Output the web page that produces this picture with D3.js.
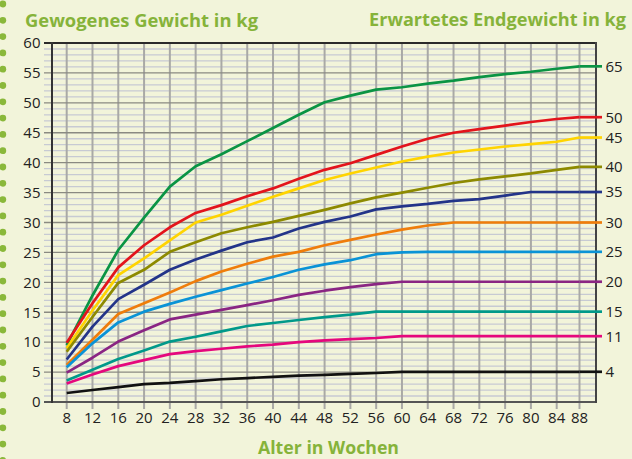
<!DOCTYPE html>
<html><head><meta charset="utf-8">
<script src="https://cdn.jsdelivr.net/npm/d3@7"></script>
<style>html,body{margin:0;padding:0;background:#f2f4da;}svg{display:block}</style>
</head><body><svg id="c" width="632" height="459"></svg>
<script>
// ---- data ----
const weeks = [8,12,16,20,24,28,32,36,40,44,48,52,56,60,64,68,72,76,80,84,88];
const yTicks = [0,5,10,15,20,25,30,35,40,45,50,55,60];
const endLabels = ["65","50","45","40","35","30","25","20","15","11","4"];
const seriesColors = ["#0a9444","#e3141c","#ffd400","#8d8a00","#233489","#ef7d0b","#0a93d6","#8a2583","#00998a","#e5077d","#111111"];
const s65 = [9.5,17.8,25.4,30.8,36.0,39.4,41.4,43.6,45.8,48.0,50.1,51.2,52.2,52.6,53.2,53.7,54.3,54.8,55.2,55.7,56.1];
const s50 = [9.9,16.5,22.5,26.2,29.2,31.6,32.9,34.4,35.7,37.3,38.8,39.9,41.3,42.7,44.0,45.0,45.6,46.2,46.8,47.3,47.6];
const s45 = [9.0,15.3,21.2,24.0,27.0,30.0,31.3,32.8,34.3,35.7,37.1,38.2,39.2,40.2,41.0,41.7,42.2,42.7,43.1,43.5,44.2];
const s40 = [8.4,14.2,19.9,22.1,25.1,26.7,28.2,29.2,30.1,31.1,32.1,33.2,34.2,35.0,35.8,36.6,37.2,37.7,38.2,38.8,39.3];
const s35 = [7.1,12.6,17.2,19.6,22.1,23.8,25.3,26.7,27.5,29.0,30.1,31.0,32.2,32.7,33.1,33.6,33.9,34.5,35.1,35.1,35.1];
const s30 = [6.2,10.4,14.7,16.5,18.3,20.2,21.8,23.1,24.3,25.1,26.2,27.1,28.0,28.8,29.5,30.0,30.0,30.0,30.0,30.0,30.0];
const s25 = [5.8,9.8,13.3,15.1,16.4,17.6,18.7,19.8,20.9,22.1,23.0,23.7,24.7,25.0,25.1,25.1,25.1,25.1,25.1,25.1,25.1];
const s20 = [4.9,7.4,10.1,12.0,13.8,14.6,15.4,16.2,17.0,17.9,18.6,19.2,19.7,20.1,20.1,20.1,20.1,20.1,20.1,20.1,20.1];
const s15 = [3.6,5.4,7.2,8.6,10.1,10.9,11.8,12.7,13.2,13.7,14.2,14.6,15.1,15.1,15.1,15.1,15.1,15.1,15.1,15.1,15.1];
const s11 = [3.1,4.6,6.0,7.0,8.0,8.5,8.9,9.3,9.6,10.0,10.3,10.5,10.7,11.0,11.0,11.0,11.0,11.0,11.0,11.0,11.0];
const s4  = [1.5,2.0,2.5,3.0,3.2,3.5,3.8,4.0,4.2,4.4,4.55,4.7,4.85,5.05,5.05,5.05,5.05,5.05,5.05,5.05,5.05];
const allSeries = [s65,s50,s45,s40,s35,s30,s25,s20,s15,s11,s4];

// ---- layout ----
const svg = d3.select("#c");
const W = 632, H = 459;
const plotL = 52, plotR = 596, plotT = 43, plotB = 402;
const x = d3.scaleLinear().domain([8,84,88]).range([66.7,556.7,579.5]);
const y = d3.scaleLinear().domain([0,60]).range([plotB, plotT]);
const green = "#86b33a";
const font = "'Open Sans', sans-serif";

svg.append("rect").attr("width",W).attr("height",H).attr("fill","#f2f4da");

// left dotted border
const dots = d3.range(0, 29);
svg.append("g").selectAll("circle").data(dots).join("circle")
  .attr("cx",2.8).attr("cy",d=>4+d*16.3).attr("r",3.4).attr("fill","#8ab83a");

// minor horizontal grid (every 1 kg)
const minor = d3.range(1,60).filter(v=>v%5!==0);
svg.append("g").selectAll("line").data(minor).join("line")
  .attr("x1",44).attr("x2",plotR).attr("y1",d=>y(d)).attr("y2",d=>y(d))
  .attr("stroke","#c7cad3").attr("stroke-width",1.3);

// vertical grid
svg.append("g").selectAll("line").data(weeks).join("line")
  .attr("x1",d=>x(d)).attr("x2",d=>x(d)).attr("y1",plotT).attr("y2",409)
  .attr("stroke","#a9a9a6").attr("stroke-width",2);

// major horizontal grid + left ticks
const major = yTicks.filter(v=>v>0 && v<60);
svg.append("g").selectAll("line").data(major).join("line")
  .attr("x1",44).attr("x2",plotR).attr("y1",d=>y(d)).attr("y2",d=>y(d))
  .attr("stroke","#8a8a82").attr("stroke-width",1.3);

// frame
svg.append("line").attr("x1",44).attr("x2",plotR).attr("y1",plotT).attr("y2",plotT).attr("stroke","#2a2a2a").attr("stroke-width",2);
svg.append("line").attr("x1",44).attr("x2",plotR+1).attr("y1",plotB).attr("y2",plotB).attr("stroke","#555").attr("stroke-width",2);
svg.append("line").attr("x1",plotL).attr("x2",plotL).attr("y1",plotT-1).attr("y2",plotB+1).attr("stroke","#333").attr("stroke-width",2);
svg.append("line").attr("x1",plotR).attr("x2",plotR).attr("y1",plotT-1).attr("y2",plotB+1).attr("stroke","#444").attr("stroke-width",2);

// y labels
svg.append("g").selectAll("text").data(yTicks).join("text")
  .attr("x",40.5).attr("y",d=>y(d)).attr("dy","0.35em").attr("text-anchor","end")
  .attr("font-family",font).attr("font-size",15).attr("fill","#222").text(d=>d);

// x labels
svg.append("g").selectAll("text").data(weeks).join("text")
  .attr("x",d=>x(d)).attr("y",423).attr("text-anchor","middle")
  .attr("font-family",font).attr("font-size",15).attr("fill","#222").text(d=>d);

// series lines
const line = d3.line().x((d,i)=>x(weeks[i])).y(d=>y(d));
const lastX = x(weeks[weeks.length-1]);
allSeries.forEach((s,k)=>{
  const g = svg.append("g");
  g.append("path").datum(s).attr("d",line).attr("fill","none")
    .attr("stroke",seriesColors[k]).attr("stroke-width",2.7).attr("stroke-linejoin","round");
  const v = s[s.length-1];
  g.append("line").attr("x1",lastX).attr("x2",602).attr("y1",y(v)).attr("y2",y(v))
    .attr("stroke",seriesColors[k]).attr("stroke-width",2.7);
  g.append("text").attr("x",605.5).attr("y",y(v)).attr("dy","0.36em")
    .attr("font-family",font).attr("font-size",15).attr("fill","#222").text(endLabels[k]);
});

// titles
svg.append("text").attr("x",25).attr("y",26.5).attr("font-family",font).attr("font-weight","bold")
  .attr("font-size",18.5).attr("fill",green).attr("textLength",233).attr("lengthAdjust","spacingAndGlyphs")
  .text("Gewogenes Gewicht in kg");
svg.append("text").attr("x",369).attr("y",26).attr("font-family",font).attr("font-weight","bold")
  .attr("font-size",18.5).attr("fill",green).attr("textLength",257).attr("lengthAdjust","spacingAndGlyphs")
  .text("Erwartetes Endgewicht in kg");
svg.append("text").attr("x",258).attr("y",454).attr("font-family",font).attr("font-weight","bold")
  .attr("font-size",18.5).attr("fill",green).attr("textLength",141).attr("lengthAdjust","spacingAndGlyphs")
  .text("Alter in Wochen");
</script></body></html>
